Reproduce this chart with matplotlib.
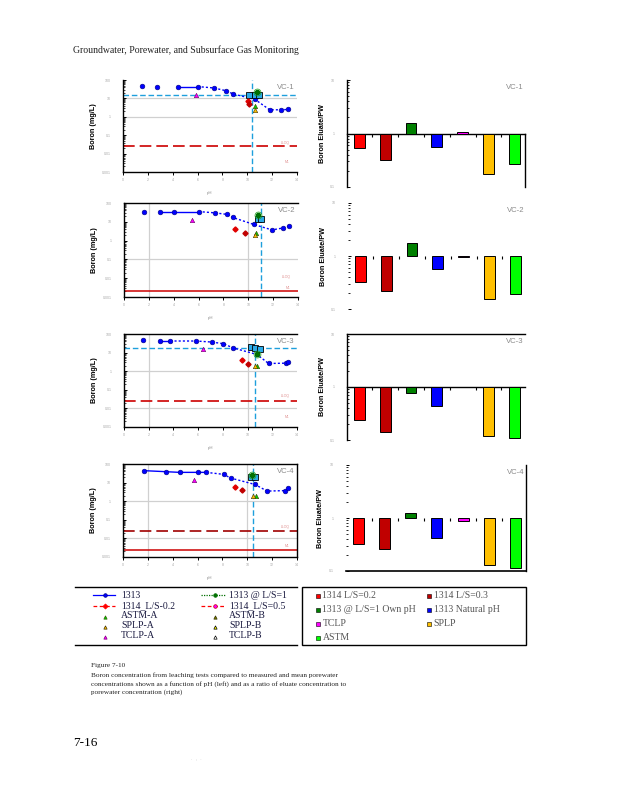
import numpy as np
import matplotlib
matplotlib.use('Agg')
import matplotlib.pyplot as plt

sites = ['VC-1', 'VC-2', 'VC-3', 'VC-4']

# 1313 (pH dependence) boron, mg/L
ph_1313 = [
    [1.5, 2.75, 4.4, 6.0, 7.3, 8.3, 8.85, 10.6, 11.8, 12.75, 13.25],
    [1.6, 2.9, 4.0, 6.0, 7.3, 8.25, 8.75, 10.45, 11.9, 12.8, 13.3],
    [1.55, 2.95, 3.75, 5.8, 7.1, 8.05, 8.85, 10.75, 11.7, 13.1, 13.3],
    [1.65, 3.45, 4.55, 6.05, 6.7, 8.1, 8.65, 10.6, 11.6, 13.0, 13.3],
]
b_1313 = [
    [47, 44, 44, 44, 37, 26, 17.5, 9, 2.4, 2.4, 2.5],
    [35, 35, 35, 35, 30, 25, 17, 7.2, 3.7, 4.7, 6.0],
    [45, 42, 42, 42, 37, 30, 17.6, 8, 2.6, 2.7, 3.1],
    [44, 38.6, 35.5, 35.5, 35.5, 27.7, 17.6, 8, 3.5, 3.7, 4.9],
]
solid_part = [(2, 3), (1, 3), (1, 2), (0, 4)]

# 1313 @ L/S=1
ph_ls1 = [10.76, 10.76, 10.8, 10.37]
b_ls1 = [23, 24, 8.5, 25.5]

# 1314 L/S 0.2 and 0.5
ph_1314a = [10.06, 8.9, 9.54, 9.03]
b_1314a = [7.6, 4.0, 4.0, 5.7]
ph_1314b = [10.17, 9.73, 10.0, 9.57]
b_1314b = [5.0, 2.6, 2.4, 4.1]

# single batch tests
ph_astm = [10.63, 10.65, 10.78, 10.7]
b_astm = [3.9, 2.6, 1.8, 1.8]
ph_splp = [10.63, 10.57, 10.6, 10.45]
b_splp = [2.3, 2.0, 1.9, 1.95]
ph_tclp = [5.85, 5.5, 6.4, 5.68]
b_tclp = [14.8, 12.3, 15.5, 14.3]

# porewater samples and mean
ph_pw = [[10.15, 10.6, 10.95], [10.75, 11.05], [10.27, 10.6, 11.0], [10.3, 10.6]]
b_pw = [[15.5, 15, 15], [14, 14], [21, 17, 15.5], [19, 19]]
pw_mean_ph = [10.41, 11.06, 10.62, 10.43]
pw_mean_b = [14.8, np.nan, 17, np.nan]

lloq = [0.0245, np.nan, 0.026, 0.025]
ml = [np.nan, 0.0021, np.nan, 0.0024]

# eluate / porewater ratios
bar_names = ['1314 L/S=0.2', '1314 L/S=0.3', '1313 @ L/S=1 Own pH', '1313 Natural pH',
             'TCLP', 'SPLP', 'ASTM']
ratio = [
    [0.546, 0.326, 1.58, 0.56, 1.06, 0.178, 0.266],
    [0.326, 0.216, 1.77, 0.558, 0.97, 0.157, 0.193],
    [0.24, 0.144, 0.76, 0.436, np.nan, 0.121, 0.111],
    [0.328, 0.257, 1.24, 0.425, 0.877, 0.128, 0.114],
]
bar_colors = ['#FF0000', '#C00000', '#008000', '#0000FF', '#FF00FF', '#FFC000', '#00FF00']

# panel styling
left_boxes = [(123, 80, 297, 172), (124, 203, 298, 297), (124, 334, 297, 427), (123, 464, 297, 557)]
right_boxes = [(347, 80, 525, 187), (348, 203, 526, 309), (347, 334, 525, 440), (346, 465, 526, 571)]
left_frames = [('left', 'bottom'), ('left', 'bottom', 'top'), ('left', 'bottom', 'top'),
               ('left', 'bottom', 'top', 'right')]
right_frames = [('left', 'bottom', 'rhalf'), (), ('left', 'bottom', 'top'), ('right', 'low')]
hgrid = [[10, 1], [0.1], [1, 0.01], [1, 0.01]]
vgrid = [[], [2, 10], [2, 10], [2, 10]]
lloq_lab = [0.04, 0.011, 0.044, 0.04]
ml_lab = [0.0033, 0.0032, 0.0035, 0.004]

plt.rcParams['font.family'] = ['Liberation Sans', 'DejaVu Sans']
serif = 'Liberation Serif'
pw_blue = '#1E9FDC'

fig = plt.figure(figsize=(6.18, 8.0), dpi=100)
page = fig.add_axes([0, 0, 1, 1], zorder=0)
page.set_xlim(0, 618)
page.set_ylim(800, 0)
page.axis('off')


def box(l, t, r, b):
    return [l / 618, 1 - b / 800, (r - l) / 618, (b - t) / 800]


for i, site in enumerate(sites):
    # ---- left: boron vs pH
    ax = fig.add_axes(box(*left_boxes[i]), zorder=2)
    ax.set_yscale('log')
    ax.set_xlim(0, 14)
    ax.set_ylim(0.001, 100)
    ax.patch.set_alpha(0)
    for s in ['top', 'right', 'left', 'bottom']:
        ax.spines[s].set_visible(s in left_frames[i])
        ax.spines[s].set_linewidth(1)
    for g in hgrid[i]:
        ax.axhline(g, color='#D0D0D0', lw=0.9, zorder=1)
    for g in vgrid[i]:
        ax.axvline(g, color='#D0D0D0', lw=0.9, zorder=1)
    ax.axvline(pw_mean_ph[i], color=pw_blue, ls=(0, (4, 2)), lw=1, zorder=2)
    if not np.isnan(pw_mean_b[i]):
        ax.axhline(pw_mean_b[i], color=pw_blue, ls=(0, (4, 2)), lw=1, zorder=2)
    if not np.isnan(lloq[i]):
        ax.axhline(lloq[i], color='#CC0000' if i < 3 else '#A00000', ls=(0, (7, 3)), lw=1.2, zorder=2)
    if not np.isnan(ml[i]):
        ax.axhline(ml[i], color='#CC0000', lw=1.1, zorder=2)
    ax.text(13.4, lloq_lab[i], 'LLOQ', fontsize=2.5, color='#E09090', ha='right', va='center')
    ax.text(13.4, ml_lab[i], 'ML', fontsize=2.5, color='#E09090', ha='right', va='center')

    xs = np.array(ph_1313[i])
    ys = np.array(b_1313[i])
    a, b = solid_part[i]
    ax.plot(xs[a:b + 1], ys[a:b + 1], color='#0000FF', lw=1, zorder=3)
    ax.plot(xs[b:], ys[b:], color='#0000FF', lw=1, ls=(0, (1.5, 1.5)), zorder=3)
    ax.plot(xs, ys, 'o', color='#0000FF', ms=3.4, mec='#000080', mew=0.4, zorder=4)

    ax.plot(ph_pw[i], b_pw[i], 's', color='#2AAAE8', ms=4.4, mec='black', mew=0.6, zorder=4)
    ax.plot(ph_ls1[i], b_ls1[i], 'o', color='#007000', ms=3, zorder=5)
    ax.plot(ph_ls1[i], b_ls1[i], 'o', mfc='none', mec='#20A020', ms=5, mew=0.5, zorder=5)
    ax.plot(ph_1314a[i], b_1314a[i], 'D', color='#E00000', ms=2.6, zorder=5)
    ax.plot(ph_1314b[i], b_1314b[i], 'D', color='#C00000', ms=2.6, zorder=5)
    ax.plot(ph_astm[i], b_astm[i], '^', color='#00D000', ms=3.2, mec='#404000', mew=0.4, zorder=5)
    ax.plot(ph_splp[i], b_splp[i], '^', color='#FFC000', ms=3.2, mec='#403000', mew=0.4, zorder=5)
    ax.plot(ph_tclp[i], b_tclp[i], '^', color='#FF00FF', ms=3.2, mec='#600060', mew=0.4, zorder=5)

    ax.set_xticks(range(0, 15, 2))
    ax.set_xticklabels([str(v) for v in range(0, 15, 2)])
    ax.set_yticks([0.001, 0.01, 0.1, 1, 10, 100])
    ax.set_yticklabels(['0.001', '0.01', '0.1', '1', '10', '100'])
    ax.tick_params(axis='x', length=2.5, width=0.7, labelsize=2.6, labelcolor='#A8A8A8', pad=2)
    ax.tick_params(axis='y', which='major', direction='in', length=2.5, width=0.7,
                   labelsize=2.6, labelcolor='#A8A8A8', pad=9)
    ax.tick_params(axis='y', which='minor', direction='in', length=1.3, width=0.5)
    ax.set_xlabel('pH', fontsize=3.2, color='#909090', labelpad=6)
    ax.set_ylabel('Boron (mg/L)', fontsize=5.2, fontweight='bold')
    ax.yaxis.set_label_coords(-0.15, 0.5)
    ax.text(0.985, 0.96, site, transform=ax.transAxes, ha='right', va='top',
            fontsize=5.6, color='#8A8A8A', zorder=6)

    # ---- right: eluate / porewater ratio
    bx = fig.add_axes(box(*right_boxes[i]), zorder=2)
    bx.patch.set_alpha(0)
    bx.set_yscale('log')
    bx.set_ylim(0.1, 10)
    bx.set_xlim(-0.48, 6.41)
    r = np.array(ratio[i])
    x = np.arange(len(r))
    ok = ~np.isnan(r)
    bx.bar(x[ok], r[ok] - 1, bottom=1, width=0.42, color=np.array(bar_colors)[ok],
           edgecolor='black', linewidth=0.7, zorder=3)
    fr = right_frames[i]
    for s in ['top', 'right', 'left', 'bottom']:
        bx.spines[s].set_visible(s in fr)
        bx.spines[s].set_linewidth(1)
    bx.spines['bottom'].set_position(('data', 1))
    if 'rhalf' in fr:
        bx.axvline(6.41, ymin=0, ymax=0.5, color='black', lw=1, clip_on=False)
    if 'low' in fr:
        bx.axhline(0.1, color='black', lw=1.2, clip_on=False)
    bx.set_xticks(np.arange(0.5, 6, 1))
    bx.tick_params(axis='x', length=2, width=0.8, labelbottom=False)
    bx.set_yticks([0.1, 1, 10])
    bx.set_yticklabels(['0.1', '1', '10'])
    bx.tick_params(axis='y', which='major', direction='in', length=2.5, width=0.7,
                   labelsize=2.6, labelcolor='#A8A8A8', pad=9)
    bx.tick_params(axis='y', which='minor', direction='in', length=1.3, width=0.6)
    bx.set_ylabel('Boron Eluate/PW', fontsize=5.2, fontweight='bold')
    bx.yaxis.set_label_coords(-0.12, 0.5)
    bx.text(0.99, 0.96, site, transform=bx.transAxes, ha='right', va='top',
            fontsize=5.6, color='#8A8A8A', zorder=6)

# ---- page text
page.text(73, 50, 'Groundwater, Porewater, and Subsurface Gas Monitoring', family=serif,
          fontsize=7, va='center', color='#222222')
page.text(91, 666, 'Figure 7-10', family=serif, fontsize=5.2, va='center', color='#222222')
caption = ['Boron concentration from leaching tests compared to measured and mean porewater',
           'concentrations shown as a function of pH (left) and as a ratio of eluate concentration to',
           'porewater concentration (right)']
for k, line in enumerate(caption):
    page.text(91, 675 + k * 8.6, line, family=serif, fontsize=5.2, va='center', color='#222222')
page.text(73, 743, '7-16', family=serif, fontsize=9.5, va='center', color='black')
page.text(196, 760, '\u00b7   :   \u00b7', fontsize=3, ha='center', va='center', color='#999999')

# ---- left legend
page.plot([75, 297], [587, 587], color='black', lw=1)
page.plot([75, 297], [645, 645], color='black', lw=1)
rows = [595, 605.5, 616, 626, 636]
leg1 = [
    ('1313', '#0000FF', '-', 'o', '#0000FF', '#000080'),
    ('1314_L/S-0.2', '#FF0000', (0, (3, 2)), 'D', '#FF0000', '#FF0000'),
    ('ASTM-A', None, None, '^', '#00D000', '#306000'),
    ('SPLP-A', None, None, '^', '#FFC000', '#403000'),
    ('TCLP-A', None, None, '^', '#FF00FF', '#800080'),
]
leg2 = [
    ('1313 @ L/S=1', '#007000', (0, (1, 1)), 'o', '#007000', '#007000'),
    ('1314_L/S=0.5', '#FF0000', (0, (3, 2)), 'o', '#FF00FF', '#C00000'),
    ('ASTM-B', None, None, '^', '#808000', '#303000'),
    ('SPLP-B', None, None, '^', '#FFFF00', '#000000'),
    ('TCLP-B', None, None, '^', '#FFFFFF', '#000000'),
]
for col, (x0, x1, xm, xt) in zip([leg1, leg2], [(93, 115, 104.5, 121), (201, 226, 215, 229)]):
    for (lab, lc, ls, mk, mfc, mec), y in zip(col, rows):
        if lc is not None:
            page.plot([x0, x1], [y, y], color=lc, ls=ls, lw=0.9)
            page.plot(xm, y, mk, mfc=mfc, mec=mec, ms=2.6, mew=0.5)
        else:
            page.plot(xm, y + 0.5, mk, mfc=mfc, mec=mec, ms=2.4, mew=0.5)
        page.text(xt, y, lab, family=serif, fontsize=7, va='center', color='#1A1A40')

# ---- right legend
page.add_patch(plt.Rectangle((302, 587), 224, 58, fill=False, ec='black', lw=1))
rrows = [595, 609, 623, 637]
for k, (name, c) in enumerate(zip(bar_names, bar_colors)):
    cx = 318 if k % 2 == 0 else 429
    y = rrows[k // 2]
    page.plot(cx, y + 1, 's', mfc=c, mec='black', ms=3, mew=0.4)
    page.text(cx + 4.5, y, name, family=serif, fontsize=7, va='center', color='#555555')

fig.savefig('out.png', dpi=100)
